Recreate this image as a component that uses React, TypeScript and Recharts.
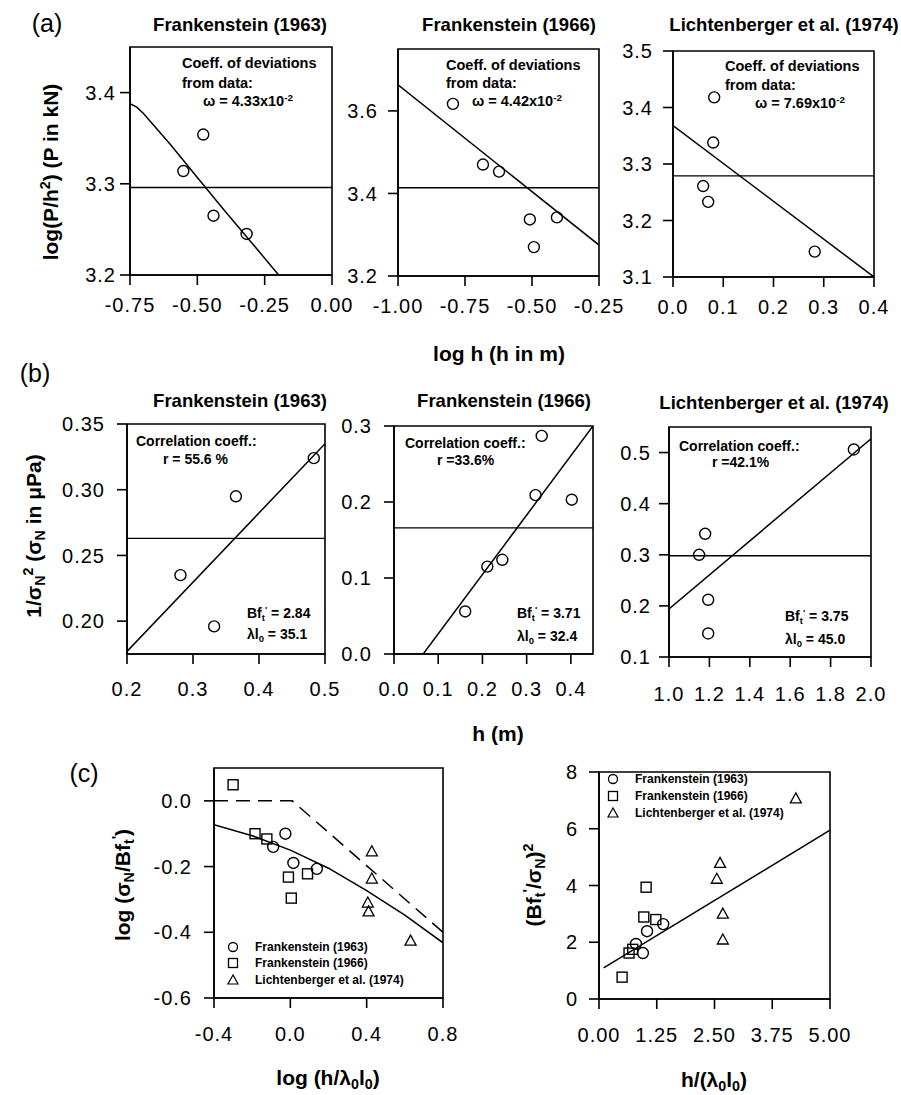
import React from 'react';
import { ComposedChart, XAxis, YAxis, Scatter, Line, ReferenceLine, ReferenceArea } from 'recharts';

// ---------- DATA ----------
// Panel (a): log(P/h^2) vs log h
const a1Points = [
  { x: -0.552, y: 3.314 }, { x: -0.478, y: 3.354 }, { x: -0.44, y: 3.265 }, { x: -0.317, y: 3.245 },
];
const a1Mean = 3.296;
const a1Fit = [
  { x: -0.75, y: 3.388 }, { x: -0.725, y: 3.384 }, { x: -0.70, y: 3.377 }, { x: -0.60, y: 3.343 },
  { x: -0.50, y: 3.307 }, { x: -0.40, y: 3.271 }, { x: -0.30, y: 3.236 }, { x: -0.198, y: 3.2 },
];
const a2Points = [
  { x: -0.795, y: 3.617 }, { x: -0.683, y: 3.47 }, { x: -0.623, y: 3.453 },
  { x: -0.508, y: 3.337 }, { x: -0.493, y: 3.27 }, { x: -0.407, y: 3.342 },
];
const a2Mean = 3.414;
const a2Fit = [{ x: -1.0, y: 3.663 }, { x: -0.25, y: 3.275 }];
const a3Points = [
  { x: 0.082, y: 3.418 }, { x: 0.08, y: 3.338 }, { x: 0.06, y: 3.261 }, { x: 0.07, y: 3.233 }, { x: 0.282, y: 3.145 },
];
const a3Mean = 3.279;
const a3Fit = [{ x: 0.0, y: 3.368 }, { x: 0.4, y: 3.1 }];

// Panel (b): 1/sigma_N^2 vs h
const b1Points = [
  { x: 0.281, y: 0.235 }, { x: 0.365, y: 0.295 }, { x: 0.332, y: 0.196 }, { x: 0.483, y: 0.324 },
];
const b1Mean = 0.263;
const b1Fit = [{ x: 0.2, y: 0.177 }, { x: 0.5, y: 0.335 }];
const b2Points = [
  { x: 0.161, y: 0.056 }, { x: 0.211, y: 0.115 }, { x: 0.245, y: 0.124 },
  { x: 0.32, y: 0.209 }, { x: 0.334, y: 0.287 }, { x: 0.402, y: 0.203 },
];
const b2Mean = 0.166;
const b2Fit = [{ x: 0.066, y: 0.0 }, { x: 0.45, y: 0.3 }];
const b3Points = [
  { x: 1.149, y: 0.3 }, { x: 1.179, y: 0.341 }, { x: 1.194, y: 0.212 }, { x: 1.194, y: 0.146 }, { x: 1.915, y: 0.506 },
];
const b3Mean = 0.298;
const b3Fit = [{ x: 1.0, y: 0.194 }, { x: 2.0, y: 0.527 }];

// Panel (c) left: log(sigma_N/Bf_t') vs log(h/lambda0 l0)
const c1Circles = [
  { x: -0.09, y: -0.14 }, { x: -0.026, y: -0.1 }, { x: 0.016, y: -0.189 }, { x: 0.139, y: -0.207 },
];
const c1Squares = [
  { x: -0.3, y: 0.049 }, { x: -0.185, y: -0.1 }, { x: -0.123, y: -0.116 },
  { x: -0.01, y: -0.232 }, { x: 0.005, y: -0.296 }, { x: 0.09, y: -0.222 },
];
const c1Triangles = [
  { x: 0.427, y: -0.155 }, { x: 0.427, y: -0.238 }, { x: 0.406, y: -0.311 }, { x: 0.41, y: -0.338 }, { x: 0.63, y: -0.427 },
];
const c1Law = [
  { x: -0.4, y: -0.073 }, { x: -0.2, y: -0.106 }, { x: 0.0, y: -0.15 }, { x: 0.2, y: -0.205 },
  { x: 0.4, y: -0.273 }, { x: 0.6, y: -0.348 }, { x: 0.8, y: -0.432 },
];
const c1Asymptote = [{ x: -0.4, y: 0.0 }, { x: 0.01, y: 0.0 }, { x: 0.8, y: -0.4 }];

// Panel (c) right: (Bf_t'/sigma_N)^2 vs h/(lambda0 l0)
const c2Circles = [
  { x: 0.8, y: 1.94 }, { x: 0.95, y: 1.62 }, { x: 1.04, y: 2.39 }, { x: 1.39, y: 2.64 },
];
const c2Squares = [
  { x: 0.5, y: 0.77 }, { x: 0.65, y: 1.62 }, { x: 0.73, y: 1.75 }, { x: 0.97, y: 2.89 }, { x: 1.02, y: 3.94 }, { x: 1.23, y: 2.8 },
];
const c2Triangles = [
  { x: 2.55, y: 4.22 }, { x: 2.62, y: 4.78 }, { x: 2.68, y: 2.99 }, { x: 2.68, y: 2.08 }, { x: 4.26, y: 7.05 },
];
const c2Fit = [{ x: 0.1, y: 1.1 }, { x: 5.0, y: 5.95 }];

// Tick values
const a1XTicks = [-0.75, -0.5, -0.25, 0];
const a1YTicks = [3.2, 3.3, 3.4];
const a2XTicks = [-1.0, -0.75, -0.5, -0.25];
const a2YTicks = [3.2, 3.4, 3.6];
const a3XTicks = [0, 0.1, 0.2, 0.3, 0.4];
const a3YTicks = [3.1, 3.2, 3.3, 3.4, 3.5];
const b1XTicks = [0.2, 0.3, 0.4, 0.5];
const b1YTicks = [0.2, 0.25, 0.3, 0.35];
const b2XTicks = [0, 0.1, 0.2, 0.3, 0.4];
const b2YTicks = [0, 0.1, 0.2, 0.3];
const b3XTicks = [1.0, 1.2, 1.4, 1.6, 1.8, 2.0];
const b3YTicks = [0.1, 0.2, 0.3, 0.4, 0.5];
const c1XTicks = [-0.4, 0, 0.4, 0.8];
const c1YTicks = [-0.6, -0.4, -0.2, 0];
const c2XTicks = [0, 1.25, 2.5, 3.75, 5];
const c2YTicks = [0, 2, 4, 6, 8];

const titles = ['Frankenstein (1963)', 'Frankenstein (1966)', 'Lichtenberger et al. (1974)'];

// ---------- STYLE HELPERS ----------
const FONT = '"Liberation Sans", Arial, Helvetica, sans-serif';
const tickStyle = { fontSize: 20, fill: '#000', fontFamily: FONT, letterSpacing: 1, style: { letterSpacing: '1px' } };
const axisStyle = { stroke: '#000', strokeWidth: 1.6 };
const WY = 80, HX = 60, MT = 16, MR = 34;

const f = (d: number) => (v: number) => Number(v).toFixed(d);

type PanelProps = {
  l: number; t: number; r: number; b: number;
  xd: [number, number]; yd: [number, number];
  xt: number[]; yt: number[];
  xf: (v: number) => string; yf: (v: number) => string;
  xm?: number; ym?: number;
  children?: React.ReactNode;
};

function Panel({ l, t, r, b, xd, yd, xt, yt, xf, yf, xm = 12, ym = 8, children }: PanelProps) {
  const w = WY + (r - l) + MR;
  const h = MT + (b - t) + HX;
  return (
    <div style={{ position: 'absolute', left: l - WY, top: t - MT }}>
      <ComposedChart width={w} height={h} margin={{ top: MT, right: MR, bottom: 0, left: 0 }}>
        <XAxis type="number" dataKey="x" domain={xd} ticks={xt} tickFormatter={xf} allowDataOverflow
          height={HX} interval={0} tickSize={10} tickMargin={xm} tick={tickStyle} axisLine={axisStyle} tickLine={axisStyle} />
        <YAxis type="number" dataKey="y" domain={yd} ticks={yt} tickFormatter={yf} allowDataOverflow
          width={WY} interval={0} tickSize={10} tickMargin={ym} tick={tickStyle} axisLine={axisStyle} tickLine={axisStyle} />
        <ReferenceArea x1={xd[0]} x2={xd[1]} y1={yd[0]} y2={yd[1]} fill="none" fillOpacity={0} stroke="#000" strokeWidth={1.6} />
        {children}
      </ComposedChart>
    </div>
  );
}

const circleShape = (p: any) => <circle cx={p.cx} cy={p.cy} r={5.5} fill="none" stroke="#000" strokeWidth={1.4} />;
const squareShape = (p: any) => <rect x={p.cx - 5} y={p.cy - 5} width={10} height={10} fill="none" stroke="#000" strokeWidth={1.4} />;
const triShape = (p: any) => (
  <polygon points={`${p.cx},${p.cy - 6} ${p.cx - 5.5},${p.cy + 4} ${p.cx + 5.5},${p.cy + 4}`} fill="none" stroke="#000" strokeWidth={1.3} />
);

const fitLine = (data: { x: number; y: number }[], key: string, dash?: string) => (
  <Line key={key} data={data} dataKey="y" type="linear" dot={false} activeDot={false} stroke="#000" strokeWidth={1.5}
    strokeDasharray={dash} isAnimationActive={false} />
);
const meanLine = (y: number, key: string) => <ReferenceLine key={key} y={y} stroke="#000" strokeWidth={1.4} />;
const pts = (data: { x: number; y: number }[], shape: any, key: string) => (
  <Scatter key={key} data={data} shape={shape} isAnimationActive={false} />
);

type TxtProps = { x: number; y: number; size: number; bold?: boolean; align?: 'center' | 'left'; rot?: boolean; children?: React.ReactNode };
function Txt({ x, y, size, bold = true, align = 'center', rot = false, children }: TxtProps) {
  const tx = align === 'center' ? '-50%' : '0';
  return (
    <div style={{
      position: 'absolute', left: x, top: y, transform: `translate(${tx},-50%)${rot ? ' rotate(-90deg)' : ''}`,
      fontSize: size, fontWeight: bold ? 700 : 400, fontFamily: FONT, lineHeight: 1, whiteSpace: 'nowrap', color: '#000',
    }}>{children}</div>
  );
}
const Sup = ({ children }: { children?: React.ReactNode }) => (
  <span style={{ position: 'relative', top: '-0.55em', fontSize: '0.68em' }}>{children}</span>
);
const Sub = ({ children }: { children?: React.ReactNode }) => (
  <span style={{ position: 'relative', top: '0.3em', fontSize: '0.68em' }}>{children}</span>
);
const Bft = () => <>Bf<Sub>t</Sub><Sup>'</Sup></>;

function LegendRow({ x, y, kind, label }: { x: number; y: number; kind: 'c' | 's' | 't'; label: string }) {
  return (
    <>
      <svg style={{ position: 'absolute', left: x - 8, top: y - 8 }} width={16} height={16}>
        {kind === 'c' && <circle cx={8} cy={8} r={4.5} fill="none" stroke="#000" strokeWidth={1.3} />}
        {kind === 's' && <rect x={3.5} y={3.5} width={9} height={9} fill="none" stroke="#000" strokeWidth={1.3} />}
        {kind === 't' && <polygon points="8,3 3,12 13,12" fill="none" stroke="#000" strokeWidth={1.2} />}
      </svg>
      <Txt x={x + 22} y={y} size={12} align="left">{label}</Txt>
    </>
  );
}

export default function App() {
  return (
    <div style={{ position: 'absolute', left: 0, top: 0, width: 901, height: 1095, background: '#fff', overflow: 'hidden' }}>
      {/* ---------------- (a) ---------------- */}
      <Txt x={47} y={23} size={25} bold={false}>(a)</Txt>
      <Txt x={240} y={25} size={18.5}>{titles[0]}</Txt>
      <Txt x={509} y={25} size={18.5}>{titles[1]}</Txt>
      <Txt x={784} y={25} size={18.5}>{titles[2]}</Txt>
      <Txt x={50} y={172} size={21} rot>log(P/h<Sup>2</Sup>) (P in kN)</Txt>
      <Txt x={499} y={353} size={21}>log h (h in m)</Txt>

      <Panel l={130} t={47} r={332} b={275} xd={[-0.75, 0]} yd={[3.2, 3.45]} xt={a1XTicks} yt={a1YTicks} xf={f(2)} yf={f(1)} xm={13} ym={4}>
        {meanLine(a1Mean, 'm')}
        {fitLine(a1Fit, 'l')}
        {pts(a1Points, circleShape, 's')}
      </Panel>
      <Panel l={398} t={49} r={599} b={276} xd={[-1, -0.25]} yd={[3.2, 3.75]} xt={a2XTicks} yt={a2YTicks} xf={f(2)} yf={f(1)} xm={13} ym={10}>
        {meanLine(a2Mean, 'm')}
        {fitLine(a2Fit, 'l')}
        {pts(a2Points, circleShape, 's')}
      </Panel>
      <Panel l={673} t={51} r={874} b={277} xd={[0, 0.4]} yd={[3.1, 3.5]} xt={a3XTicks} yt={a3YTicks} xf={f(1)} yf={f(1)} xm={13} ym={10}>
        {meanLine(a3Mean, 'm')}
        {fitLine(a3Fit, 'l')}
        {pts(a3Points, circleShape, 's')}
      </Panel>

      <Txt x={182} y={63} size={14.5} align="left">Coeff. of deviations</Txt>
      <Txt x={182} y={83} size={14.5} align="left">from data:</Txt>
      <Txt x={203} y={101} size={14.5} align="left">ω = 4.33x10<Sup>-2</Sup></Txt>
      <Txt x={446} y={65} size={14.5} align="left">Coeff. of deviations</Txt>
      <Txt x={446} y={83} size={14.5} align="left">from data:</Txt>
      <Txt x={472} y={101} size={14.5} align="left">ω = 4.42x10<Sup>-2</Sup></Txt>
      <Txt x={725} y={66} size={14.5} align="left">Coeff. of deviations</Txt>
      <Txt x={725} y={85} size={14.5} align="left">from data:</Txt>
      <Txt x={755} y={103} size={14.5} align="left">ω = 7.69x10<Sup>-2</Sup></Txt>

      {/* ---------------- (b) ---------------- */}
      <Txt x={35} y={373} size={25} bold={false}>(b)</Txt>
      <Txt x={240} y={401} size={18.5}>{titles[0]}</Txt>
      <Txt x={504} y={401} size={18.5}>{titles[1]}</Txt>
      <Txt x={774} y={403} size={18.5}>{titles[2]}</Txt>
      <Txt x={33} y={536} size={21} rot>1/σ<Sub>N</Sub><Sup>2</Sup> (σ<Sub>N</Sub> in μPa)</Txt>
      <Txt x={498} y={733} size={21}>h (m)</Txt>

      <Panel l={127} t={424} r={325} b={654} xd={[0.2, 0.5]} yd={[0.175, 0.35]} xt={b1XTicks} yt={b1YTicks} xf={f(1)} yf={f(2)} xm={18} ym={12}>
        {meanLine(b1Mean, 'm')}
        {fitLine(b1Fit, 'l')}
        {pts(b1Points, circleShape, 's')}
      </Panel>
      <Panel l={394} t={426} r={593} b={654} xd={[0, 0.45]} yd={[0, 0.3]} xt={b2XTicks} yt={b2YTicks} xf={f(1)} yf={f(1)} xm={18} ym={12}>
        {meanLine(b2Mean, 'm')}
        {fitLine(b2Fit, 'l')}
        {pts(b2Points, circleShape, 's')}
      </Panel>
      <Panel l={669} t={427} r={871} b={657} xd={[1, 2]} yd={[0.1, 0.55]} xt={b3XTicks} yt={b3YTicks} xf={f(1)} yf={f(1)} xm={20} ym={8}>
        {meanLine(b3Mean, 'm')}
        {fitLine(b3Fit, 'l')}
        {pts(b3Points, circleShape, 's')}
      </Panel>

      <Txt x={136} y={441} size={14} align="left">Correlation coeff.:</Txt>
      <Txt x={163} y={459} size={14} align="left">r = 55.6 %</Txt>
      <Txt x={247} y={613} size={14} align="left"><Bft /> = 2.84</Txt>
      <Txt x={247} y={634} size={14} align="left">λl<Sub>0</Sub> = 35.1</Txt>
      <Txt x={405} y={443} size={14} align="left">Correlation coeff.:</Txt>
      <Txt x={437} y={460} size={14} align="left">r =33.6%</Txt>
      <Txt x={517} y={613} size={14} align="left"><Bft /> = 3.71</Txt>
      <Txt x={517} y={636} size={14} align="left">λl<Sub>0</Sub> = 32.4</Txt>
      <Txt x={679} y={446} size={14} align="left">Correlation coeff.:</Txt>
      <Txt x={712} y={462} size={14} align="left">r =42.1%</Txt>
      <Txt x={785} y={616} size={14} align="left"><Bft /> = 3.75</Txt>
      <Txt x={785} y={639} size={14} align="left">λl<Sub>0</Sub> = 45.0</Txt>

      {/* ---------------- (c) ---------------- */}
      <Txt x={84} y={773} size={25} bold={false}>(c)</Txt>
      <Txt x={122} y={885} size={21} rot>log (σ<Sub>N</Sub>/<Bft />)</Txt>
      <Txt x={328} y={1077} size={21}>log (h/λ<Sub>0</Sub>l<Sub>0</Sub>)</Txt>
      <Txt x={533} y={885} size={21} rot>(<Bft />/σ<Sub>N</Sub>)<Sup>2</Sup></Txt>
      <Txt x={714} y={1079} size={21}>h/(λ<Sub>0</Sub>l<Sub>0</Sub>)</Txt>

      <Panel l={214} t={768} r={443} b={998} xd={[-0.4, 0.8]} yd={[-0.6, 0.1]} xt={c1XTicks} yt={c1YTicks} xf={f(1)} yf={f(1)} xm={19} ym={12}>
        {fitLine(c1Asymptote, 'd', '14 8')}
        {fitLine(c1Law, 'l')}
        {pts(c1Circles, circleShape, 'c')}
        {pts(c1Squares, squareShape, 's')}
        {pts(c1Triangles, triShape, 't')}
      </Panel>
      <Panel l={599} t={772} r={830} b={999} xd={[0, 5]} yd={[0, 8]} xt={c2XTicks} yt={c2YTicks} xf={f(2)} yf={f(0)} xm={19} ym={11}>
        {fitLine(c2Fit, 'l')}
        {pts(c2Circles, circleShape, 'c')}
        {pts(c2Squares, squareShape, 's')}
        {pts(c2Triangles, triShape, 't')}
      </Panel>

      <LegendRow x={233} y={947} kind="c" label={titles[0]} />
      <LegendRow x={233} y={963} kind="s" label={titles[1]} />
      <LegendRow x={233} y={980} kind="t" label={titles[2]} />
      <LegendRow x={613} y={779} kind="c" label={titles[0]} />
      <LegendRow x={613} y={796} kind="s" label={titles[1]} />
      <LegendRow x={613} y={813} kind="t" label={titles[2]} />
    </div>
  );
}
